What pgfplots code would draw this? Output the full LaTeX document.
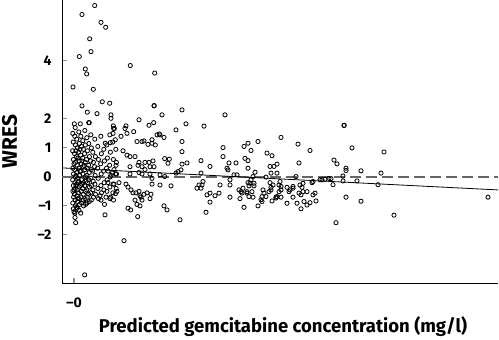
\documentclass[border=0pt]{standalone}
\usepackage{pgfplots}
\pgfplotsset{compat=1.18}
\usepackage{pgfplotstable}
\usepackage{fontspec}
\setmainfont{Fira Sans}

% WRES against predicted concentration
\pgfplotstableread{
x y
2.07 5.91
0.80 5.60
2.70 5.33
3.17 5.16
1.57 4.76
1.70 4.32
0.53 4.15
5.63 3.84
1.13 3.72
1.27 3.55
8.07 3.58
-0.10 3.10
1.93 3.02
2.83 2.59
3.57 2.54
0.80 2.45
8.00 2.45
8.02 2.46
1.33 2.23
2.30 2.18
3.70 2.14
3.70 2.02
8.80 2.14
6.50 1.97
1.53 1.87
7.50 1.78
7.97 1.87
5.20 1.76
5.10 1.67
3.93 1.76
4.03 1.67
0.03 1.83
0.63 1.83
1.47 1.87
10.80 2.31
15.10 2.14
11.20 1.83
13.00 1.75
10.20 1.62
8.60 1.45
9.00 1.36
20.70 1.36
10.80 1.22
14.90 1.01
17.00 1.05
17.40 1.16
18.40 1.22
22.40 1.13
17.70 0.91
23.60 0.91
10.80 0.87
19.30 0.82
19.80 0.73
14.90 0.70
17.10 0.64
17.40 0.56
9.07 0.63
9.53 0.61
9.40 0.47
12.70 0.56
15.50 0.48
16.20 0.48
22.50 0.48
20.30 0.44
10.80 0.44
11.30 0.48
19.60 0.36
20.00 0.36
13.60 0.36
15.30 0.30
15.40 0.24
17.40 0.30
10.70 0.24
10.40 0.18
10.20 0.13
19.70 0.13
20.30 0.13
12.70 0.13
18.10 0.16
17.90 0.01
16.00 0.07
16.30 0.07
9.07 0.01
8.60 0.07
22.20 0.01
19.20 -0.01
15.60 -0.10
12.90 -0.16
17.70 -0.10
17.40 -0.20
20.60 -0.16
20.50 -0.28
23.90 -0.16
23.80 -0.20
14.60 -0.28
12.50 -0.28
12.80 -0.28
12.30 -0.39
12.70 -0.39
15.60 -0.28
17.60 -0.22
17.50 -0.31
18.00 -0.22
18.00 -0.31
9.70 -0.31
8.60 -0.28
19.60 -0.20
19.90 -0.28
19.70 -0.36
20.70 -0.33
21.30 -0.36
21.90 -0.33
22.60 -0.28
22.80 -0.36
22.90 -0.22
16.50 -0.45
16.70 -0.51
16.90 -0.39
16.80 -0.56
17.30 -0.51
17.30 -0.56
17.50 -0.68
17.80 -0.51
18.90 -0.45
19.00 -0.56
18.80 -0.68
19.20 -0.68
18.70 -0.79
18.80 -0.85
19.50 -0.51
19.70 -0.45
20.50 -0.51
20.70 -0.45
20.30 -0.68
20.20 -0.73
21.50 -0.51
21.60 -0.45
21.90 -0.39
22.50 -0.56
22.70 -0.62
22.90 -0.51
23.30 -0.51
23.90 -0.62
24.10 -0.56
24.20 -0.83
23.60 -0.89
23.00 -0.85
13.30 -0.62
13.60 -0.56
14.10 -0.65
14.50 -0.56
13.60 -0.87
15.60 -0.70
16.60 -0.75
17.90 -0.70
18.40 -1.00
17.00 -1.05
19.80 -0.83
20.20 -0.70
20.70 -0.70
21.30 -0.91
21.90 -0.70
22.30 -0.91
22.70 -1.10
23.30 -0.97
13.20 -1.22
10.60 -1.48
9.00 -1.00
9.30 -1.14
27.00 1.77
27.02 1.78
27.80 1.00
31.00 0.86
26.00 0.58
26.30 0.45
27.20 0.30
27.20 0.22
28.70 0.21
30.70 0.13
26.90 0.03
25.70 -0.06
24.80 -0.10
26.90 -0.14
25.90 -0.27
28.30 -0.14
30.40 -0.27
27.20 -0.70
28.70 -0.84
41.40 -0.70
32.00 -1.32
26.20 -1.58
24.60 -0.10
25.10 -0.08
25.50 -0.05
1.07 -3.38
5.00 -2.20
0.17 -1.58
3.10 -1.31
6.37 -1.37
5.67 -1.14
0.00 -1.20
0.33 -1.08
0.67 -1.25
0.10 -1.40
5.40 -1.08
3.97 1.67
3.90 1.50
4.70 1.40
5.30 1.50
5.97 1.56
4.13 1.28
3.63 1.18
3.13 1.16
6.30 1.22
6.80 1.22
7.00 1.24
7.80 1.28
8.30 1.45
8.53 1.48
8.13 1.10
7.80 1.16
7.40 1.12
4.90 0.90
5.30 0.75
5.60 0.70
6.10 0.70
6.50 0.50
6.40 0.40
6.80 0.35
7.10 0.50
7.50 0.50
7.90 0.55
7.60 0.35
8.00 0.35
4.20 0.40
4.00 0.25
4.25 0.10
3.70 0.05
3.40 0.20
5.60 0.35
5.60 0.10
6.50 0.15
6.80 0.10
7.10 0.25
7.60 0.10
7.80 -0.05
7.80 -0.25
3.40 -0.20
4.00 -0.25
4.50 -0.20
4.30 -0.50
4.15 -0.58
5.20 -0.25
5.40 -0.35
5.70 -0.45
5.90 -0.55
6.20 -0.55
6.50 -0.50
6.60 -0.65
6.70 -0.70
6.80 -0.80
7.00 -0.60
7.30 -0.55
7.70 -0.60
7.60 -0.75
3.60 -0.75
3.20 -0.70
2.70 -0.80
2.60 -0.65
6.10 -0.80
6.30 -0.95
6.60 -1.00
-0.12 1.50
-0.08 1.20
-0.14 0.90
-0.06 0.60
-0.12 0.30
-0.05 0.10
-0.13 -0.10
-0.07 -0.30
-0.11 -0.50
-0.04 -0.70
-0.12 -0.90
-0.06 -1.10
0.12 1.70
0.08 1.40
0.14 1.10
0.06 0.80
0.12 0.50
0.07 0.25
0.15 0.00
0.09 -0.20
0.13 -0.40
0.05 -0.60
0.11 -0.80
0.16 -1.00
0.08 -1.25
0.28 1.30
0.34 1.00
0.26 0.70
0.32 0.40
0.29 0.15
0.35 -0.05
0.27 -0.25
0.33 -0.45
0.30 -0.65
0.36 -0.85
0.25 -1.05
0.48 1.55
0.54 1.15
0.46 0.85
0.52 0.55
0.49 0.30
0.55 0.05
0.47 -0.15
0.53 -0.35
0.45 -0.55
0.51 -0.75
0.56 -0.95
0.50 -1.15
0.68 1.40
0.74 1.05
0.66 0.75
0.72 0.45
0.69 0.20
0.75 -0.10
0.67 -0.30
0.73 -0.50
0.70 -0.70
0.76 -0.90
0.88 1.25
0.94 0.95
0.86 0.65
0.92 0.35
0.89 0.10
0.95 -0.20
0.87 -0.40
0.93 -0.60
0.90 -0.80
0.96 -1.00
1.08 1.60
1.14 1.10
1.06 0.80
1.12 0.50
1.09 0.25
1.15 0.00
1.07 -0.30
1.13 -0.50
1.10 -0.75
1.16 -0.95
1.28 1.35
1.34 0.90
1.26 0.60
1.32 0.30
1.29 0.05
1.35 -0.20
1.27 -0.45
1.33 -0.70
1.30 -0.90
1.48 1.15
1.54 0.70
1.46 0.40
1.52 0.15
1.49 -0.10
1.55 -0.35
1.47 -0.60
1.53 -0.85
1.68 1.45
1.74 1.00
1.66 0.55
1.72 0.25
1.69 -0.05
1.75 -0.30
1.67 -0.55
1.73 -0.80
1.88 0.85
1.94 0.50
1.86 0.20
1.92 -0.15
1.89 -0.45
1.95 -0.70
2.08 1.30
2.14 0.70
2.06 0.35
2.12 0.05
2.09 -0.25
2.15 -0.60
2.38 1.05
2.44 0.60
2.36 0.30
2.42 -0.05
2.39 -0.40
2.45 -0.75
2.68 1.40
2.74 0.80
2.66 0.45
2.72 0.10
2.69 -0.30
2.75 -0.55
2.98 0.95
3.04 0.55
2.96 0.20
3.02 -0.20
2.99 -0.45
3.05 -0.95
3.28 1.10
3.34 0.65
3.26 0.30
3.32 -0.10
3.29 -0.50
3.58 1.45
3.64 0.85
3.56 0.40
3.62 0.00
3.59 -0.35
3.65 -0.70
3.88 1.20
3.94 0.60
3.86 0.15
3.92 -0.25
3.89 -0.55
3.95 -0.80
4.18 0.95
4.24 0.50
4.16 0.10
4.22 -0.40
0.20 0.90
0.40 0.65
0.60 0.20
0.80 -0.25
0.20 -0.30
0.40 -0.75
0.60 0.95
0.00 0.45
0.00 -0.45
0.20 0.05
0.40 -0.20
1.00 0.40
1.20 -0.15
0.80 0.55
}\wres

\begin{document}
\begin{tikzpicture}
\begin{axis}[
  scale only axis,
  width=436pt, height=283pt,
  xmin=-1.2, xmax=42.4,
  ymin=-3.66, ymax=6.1,
  axis x line=bottom, axis y line=left,
  axis line style={-, line width=0.8pt},
  xtick={0}, xticklabels={–0},
  ytick={-2,-1,0,1,2,4}, yticklabels={–2,–1,0,1,2,4},
  tick align=inside,
  major tick length=5pt,
  tick style={black!45, line width=1.2pt},
  ticklabel style={font=\bfseries\fontsize{14}{14}\selectfont},
  yticklabel style={xshift=-7pt},
  xticklabel style={yshift=-11pt},
  xlabel={Predicted gemcitabine concentration (mg/l)},
  ylabel={WRES},
  xlabel style={font=\bfseries\fontsize{18.5}{18.5}\selectfont,
    at={(axis description cs:0.507,-0.155)}, anchor=center},
  ylabel style={font=\bfseries\fontsize{21}{21}\selectfont,
    at={(axis description cs:-0.12,0.5)}, anchor=center},
  clip=false,
]
\coordinate (sw) at (rel axis cs:0,0);
\coordinate (ne) at (rel axis cs:1,1);
\addplot[black!60, line width=1.6pt, dash pattern=on 11pt off 5pt]
  coordinates {(-1.2,0) (42.4,0)};
\addplot[black, line width=0.8pt] coordinates {(-1.2,0.31) (42.4,-0.45)};
\addplot[only marks, mark=o, mark size=2.1pt, black,
  mark options={line width=0.8pt}] table[x=x, y=y] {\wres};
\end{axis}
\pgfresetboundingbox
\path ([xshift=-62pt,yshift=-56pt]sw) rectangle ([xshift=1pt]ne);
\end{tikzpicture}
\end{document}
